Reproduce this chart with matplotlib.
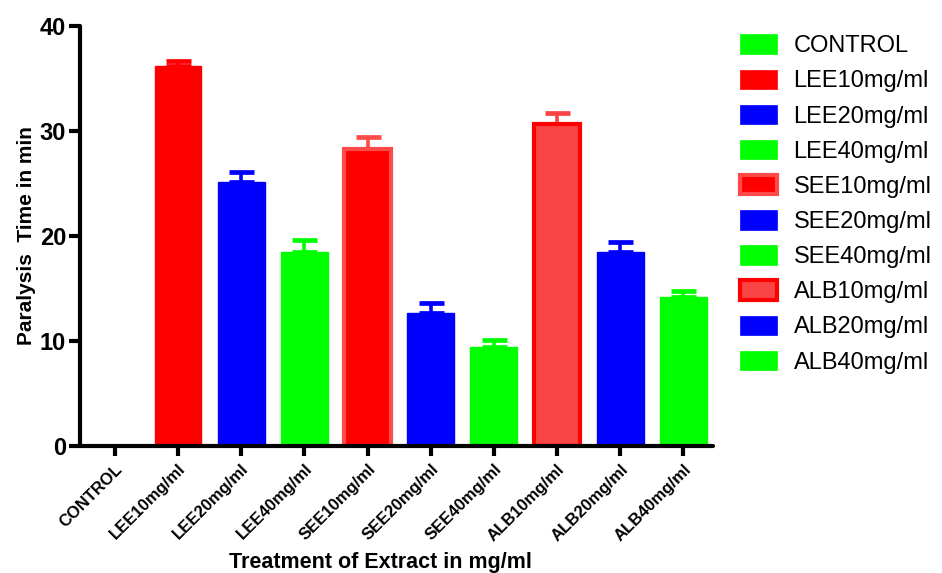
import matplotlib
matplotlib.use("Agg")
import matplotlib.pyplot as plt
from matplotlib.patches import Patch

plt.rcParams['font.family'] = ['Liberation Sans', 'DejaVu Sans']

categories = ["CONTROL", "LEE10mg/ml", "LEE20mg/ml", "LEE40mg/ml", "SEE10mg/ml",
              "SEE20mg/ml", "SEE40mg/ml", "ALB10mg/ml", "ALB20mg/ml", "ALB40mg/ml"]
means = [0.0, 36.2, 25.1, 18.5, 28.3, 12.7, 9.4, 30.7, 18.5, 14.2]
errors = [0.0, 0.5, 1.0, 1.1, 1.1, 0.9, 0.7, 1.0, 0.9, 0.6]
face_colors = ["#00FF00", "#FF0000", "#0000FF", "#00FF00", "#FF0000",
               "#0000FF", "#00FF00", "#F84444", "#0000FF", "#00FF00"]
edge_colors = ["#00FF00", "#FF0000", "#0000FF", "#00FF00", "#FF4A4A",
               "#0000FF", "#00FF00", "#FF0000", "#0000FF", "#00FF00"]
edge_widths = [1.0, 1.0, 1.0, 1.0, 3.0, 1.0, 1.0, 3.0, 1.0, 1.0]
yticks = [0, 10, 20, 30, 40]

fig = plt.figure(figsize=(9.42, 5.73), dpi=100)
ax = fig.add_axes([0.085, 0.2216, 0.672, 0.733])

x = list(range(len(categories)))
for i in x:
    if errors[i] > 0:
        ax.errorbar(i, means[i], yerr=[[0], [errors[i]]], fmt='none',
                    ecolor=edge_colors[i] if i == 4 else face_colors[i],
                    elinewidth=2.6, capsize=9, capthick=3.4, zorder=1)
ax.bar(x, means, width=0.74, color=face_colors, edgecolor=edge_colors,
       linewidth=edge_widths, zorder=2)

ax.set_xlim(-0.55, 9.47)
ax.set_ylim(0, 40)
ax.set_yticks(yticks)
ax.set_yticklabels([str(t) for t in yticks], fontsize=17, fontweight='bold')
ax.set_xticks(x)
ax.set_xticklabels(categories, rotation=45, ha='right', rotation_mode='anchor',
                   fontsize=12, fontweight='bold')
ax.tick_params(axis='y', length=8, width=3, pad=2)
ax.tick_params(axis='x', length=7, width=3, pad=4)
for s in ['top', 'right']:
    ax.spines[s].set_visible(False)
for s in ['left', 'bottom']:
    ax.spines[s].set_linewidth(3)
    ax.spines[s].set_capstyle('round')

ax.set_ylabel("Paralysis  Time in min", fontsize=15, fontweight='bold', labelpad=3)
ax.set_xlabel("Treatment of Extract in mg/ml", fontsize=15.5, fontweight='bold',
              labelpad=6, x=0.474)

handles = [Patch(facecolor=face_colors[i], edgecolor=edge_colors[i],
                 linewidth=edge_widths[i] if edge_widths[i] > 1 else 0.5)
           for i in x]
fig.legend(handles, categories, loc='upper left', bbox_to_anchor=(0.786, 0.94),
           frameon=False, fontsize=17, handlelength=1.53, handleheight=0.89,
           handletextpad=0.72, labelspacing=0.52, borderaxespad=0, borderpad=0)

fig.savefig("out.png", dpi=100)
